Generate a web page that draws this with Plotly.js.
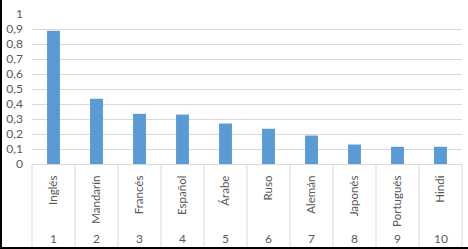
<!DOCTYPE html>
<html>
<head>
<meta charset="utf-8">
<script src="https://cdn.plot.ly/plotly-3.0.1.min.js"></script>
<style>
  html, body { margin: 0; padding: 0; background: #fff; }
  #wrap { position: relative; width: 468px; height: 249px; overflow: hidden; }
  #chart { width: 468px; height: 249px; }
  #frame { position: absolute; left: 0; top: 0; width: 468px; height: 249px;
           box-sizing: border-box; border-left: 2px solid #000; border-bottom: 2px solid #000;
           pointer-events: none; }
</style>
</head>
<body>
<div id="wrap"><div id="chart"></div><div id="frame"></div></div>
<script>
const languages = ["Inglés", "Mandarín", "Francés", "Español", "Árabe", "Ruso", "Alemán", "Japonés", "Portugués", "Hindi"];
const ranks = ["1", "2", "3", "4", "5", "6", "7", "8", "9", "10"];
const values = [0.89, 0.435, 0.335, 0.33, 0.27, 0.235, 0.19, 0.13, 0.115, 0.115];

const FONT = "Lato, 'Liberation Sans', sans-serif";
const GREY = "#595959";
const LINE = "#d9d9d9";

const n = languages.length;
const idx = languages.map((_, i) => i);

const plotTop = 14.3, plotBottom = 164, plotH = plotBottom - plotTop;
const toPaperY = py => (plotBottom - py) / plotH;

const shapes = [];
for (let i = 0; i <= n; i++) {
  shapes.push({
    type: "line", xref: "paper", yref: "paper",
    x0: i / n, x1: i / n, y0: 0, y1: toPaperY(246.7),
    line: { color: LINE, width: 1 }
  });
}

const annotations = ranks.map((r, i) => ({
  x: i, y: toPaperY(238), xref: "x", yref: "paper",
  text: r, showarrow: false, xanchor: "center", yanchor: "middle",
  font: { family: FONT, size: 12, color: GREY }
}));

const trace = {
  type: "bar",
  x: idx,
  y: values,
  marker: { color: "#5b9bd5" },
  hoverinfo: "none"
};

const layout = {
  width: 468, height: 249,
  margin: { l: 31.5, r: 5.5, t: plotTop, b: 249 - plotBottom, pad: 0 },
  paper_bgcolor: "#fff", plot_bgcolor: "#fff",
  separators: ", ",
  showlegend: false,
  bargap: 0.7,
  font: { family: FONT, size: 12, color: GREY },
  xaxis: {
    type: "linear", range: [-0.5, n - 0.5],
    tickmode: "array", tickvals: idx, ticktext: languages,
    tickangle: -90, ticks: "", ticklabelstandoff: 6,
    showgrid: false, zeroline: false,
    showline: true, linecolor: LINE, linewidth: 1,
    tickfont: { family: FONT, size: 11.5, color: GREY },
    fixedrange: true
  },
  yaxis: {
    range: [0, 1.001], dtick: 0.1, tick0: 0,
    showgrid: true, gridcolor: LINE, gridwidth: 1,
    zeroline: false, showline: false, ticks: "",
    ticklabelstandoff: 8,
    tickfont: { family: FONT, size: 12, color: GREY },
    fixedrange: true
  },
  shapes: shapes,
  annotations: annotations
};

Plotly.newPlot("chart", [trace], layout, { displayModeBar: false, staticPlot: true });
</script>
</body>
</html>
